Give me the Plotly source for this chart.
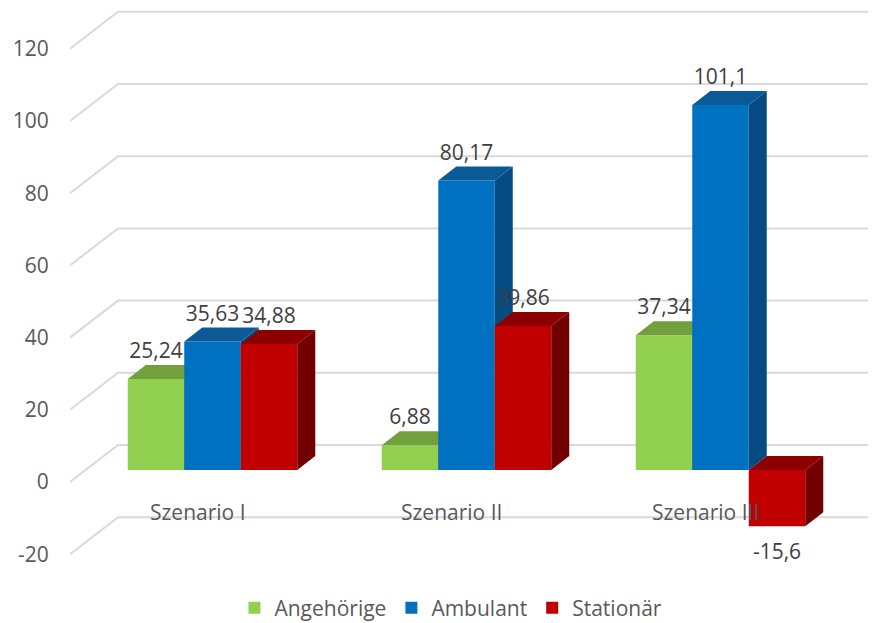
import plotly.graph_objects as go

# ---------------- data ----------------
categories = ["Szenario I", "Szenario II", "Szenario III"]
series_names = ["Angehörige", "Ambulant", "Stationär"]
angehoerige = [25.24, 6.88, 37.34]
ambulant = [35.63, 80.17, 101.1]
stationaer = [34.88, 39.86, -15.6]
y_ticks = [-20, 0, 20, 40, 60, 80, 100, 120]

# ---------------- styles ----------------
front_colors = ["#92D050", "#0070C0", "#C00000"]
top_colors = ["#71A03C", "#0A5A98", "#8C0000"]
side_colors = ["#5E8A30", "#064A82", "#720000"]
grid_color = "#D9D9D9"
axis_text = "#595959"
label_text = "#404040"
FONT = "Open Sans"
FS = 21

# page offset: the html body adds an 8px margin around the figure
PAGE_OFF = 8

# geometry (pixel-calibrated scale of the pseudo-3D view, in page pixels)
PX_PER_UNIT = 3.61          # y pixels per data unit
GROUP_PX = 254.0            # pixels between category centres
BW = 56.5 / GROUP_PX        # bar width in category units
DX = 18.0 / GROUP_PX        # depth offset (x)
DY = 14.0 / PX_PER_UNIT     # depth offset (y)
WALL = 25.0 / PX_PER_UNIT   # back-wall vertical shift
LABEL_SHIFT = 37.0 / PX_PER_UNIT
PLOT_L, PLOT_R, PLOT_T, PLOT_B = 70, 876, PAGE_OFF, 580
X_RANGE = [1 + (PLOT_L - 466.5) / GROUP_PX, 1 + (PLOT_R - 466.5) / GROUP_PX]
X_WALL = 1 + (118 - 466.5) / GROUP_PX
Y_RANGE = [(470 - PLOT_B) / PX_PER_UNIT, (470 - PLOT_T) / PX_PER_UNIT]

FIG_W = 876 - PAGE_OFF
FIG_H = 623 - PAGE_OFF

series_values = [angehoerige, ambulant, stationaer]

fig = go.Figure()

# ---- gridlines (back wall + floor diagonals), subplot 1 ----
gx, gy = [], []
for v in y_ticks:
    gx += [X_RANGE[0], X_WALL, X_RANGE[1], None]
    gy += [v + WALL - LABEL_SHIFT, v + WALL, v + WALL, None]
fig.add_trace(go.Scatter(x=gx, y=gy, mode="lines", line=dict(color=grid_color, width=2),
                         showlegend=False, hoverinfo="skip", xaxis="x", yaxis="y"))

# ---- bars, one overlaid subplot per series so that later series sit in front ----
for k, (name, vals) in enumerate(zip(series_names, series_values)):
    xa = "x%d" % (k + 2)
    ya = "y%d" % (k + 2)
    centers = [i + (k - 1) * BW for i in range(len(categories))]
    sx, sy, tx, ty = [], [], [], []
    for c, v in zip(centers, vals):
        x0, x1 = c - BW / 2, c + BW / 2
        top, bot = max(v, 0), min(v, 0)
        sx += [x1, x1, x1 + DX, x1 + DX, x1, None]
        sy += [bot, top, top + DY, bot + DY, bot, None]
        tx += [x0, x1, x1 + DX, x0 + DX, x0, None]
        ty += [top, top, top + DY, top + DY, top, None]
    fig.add_trace(go.Scatter(x=sx, y=sy, mode="lines", fill="toself", fillcolor=side_colors[k],
                             line=dict(width=0, color=side_colors[k]), showlegend=False,
                             hoverinfo="skip", xaxis=xa, yaxis=ya))
    fig.add_trace(go.Scatter(x=tx, y=ty, mode="lines", fill="toself", fillcolor=top_colors[k],
                             line=dict(width=0, color=top_colors[k]), showlegend=False,
                             hoverinfo="skip", xaxis=xa, yaxis=ya))
    fig.add_trace(go.Bar(x=centers, y=vals, width=BW, name=name,
                         marker=dict(color=front_colors[k], line=dict(width=0)),
                         hoverinfo="skip", xaxis=xa, yaxis=ya))

# ---- data labels (top-most subplot) ----
lx, ly, lt = [], [], []
for k, vals in enumerate(series_values):
    for i, v in enumerate(vals):
        c = i + (k - 1) * BW
        lx.append(c)
        ly.append(v + DY + 12.0 / PX_PER_UNIT if v >= 0 else v - 27.0 / PX_PER_UNIT)
        lt.append(("%g" % v).replace(".", ","))
fig.add_trace(go.Scatter(x=lx, y=ly, mode="text", text=lt, textposition="middle center",
                         textfont=dict(family=FONT, size=FS, color=label_text),
                         cliponaxis=False, showlegend=False, hoverinfo="skip",
                         xaxis="x4", yaxis="y4"))

# category labels on the floor
for i, cat in enumerate(categories):
    fig.add_annotation(x=i - 15.0 / GROUP_PX, y=(470 - 512) / PX_PER_UNIT, xref="x", yref="y",
                       text=cat, showarrow=False, xanchor="center", yanchor="middle",
                       font=dict(family=FONT, size=FS, color=axis_text))

hidden_x = dict(range=X_RANGE, visible=False, showgrid=False, zeroline=False, fixedrange=True)
hidden_y = dict(range=Y_RANGE, visible=False, showgrid=False, zeroline=False, fixedrange=True)

plot_h = PLOT_B - PLOT_T
fig.update_layout(
    width=FIG_W, height=FIG_H,
    margin=dict(l=PLOT_L - PAGE_OFF, r=FIG_W - (PLOT_R - PAGE_OFF), t=PLOT_T - PAGE_OFF,
                b=FIG_H - (PLOT_B - PAGE_OFF), autoexpand=False),
    paper_bgcolor="white", plot_bgcolor="white",
    barmode="overlay",
    font=dict(family=FONT, size=FS, color=axis_text),
    xaxis=dict(range=X_RANGE, visible=False, showgrid=False, zeroline=False),
    yaxis=dict(range=Y_RANGE, showgrid=False, zeroline=False, showline=False,
               automargin=False,
               tickvals=[v + WALL - LABEL_SHIFT for v in y_ticks],
               ticktext=[str(v) for v in y_ticks],
               ticks="outside", ticklen=16, tickcolor="rgba(0,0,0,0)",
               tickfont=dict(family=FONT, size=FS, color=axis_text)),
    xaxis2=dict(hidden_x, overlaying="x"),
    xaxis3=dict(hidden_x, overlaying="x"),
    xaxis4=dict(hidden_x, overlaying="x"),
    yaxis2=dict(hidden_y, overlaying="y"),
    yaxis3=dict(hidden_y, overlaying="y"),
    yaxis4=dict(hidden_y, overlaying="y"),
    legend=dict(orientation="h", x=(459 - PLOT_L) / (PLOT_R - PLOT_L) - 0.01, xanchor="center",
                y=-(608 - PLOT_B) / plot_h, yanchor="middle",
                font=dict(family=FONT, size=FS, color=axis_text), itemwidth=30,
                bgcolor="rgba(0,0,0,0)"),
    showlegend=True,
)

fig.write_html("out.html")
